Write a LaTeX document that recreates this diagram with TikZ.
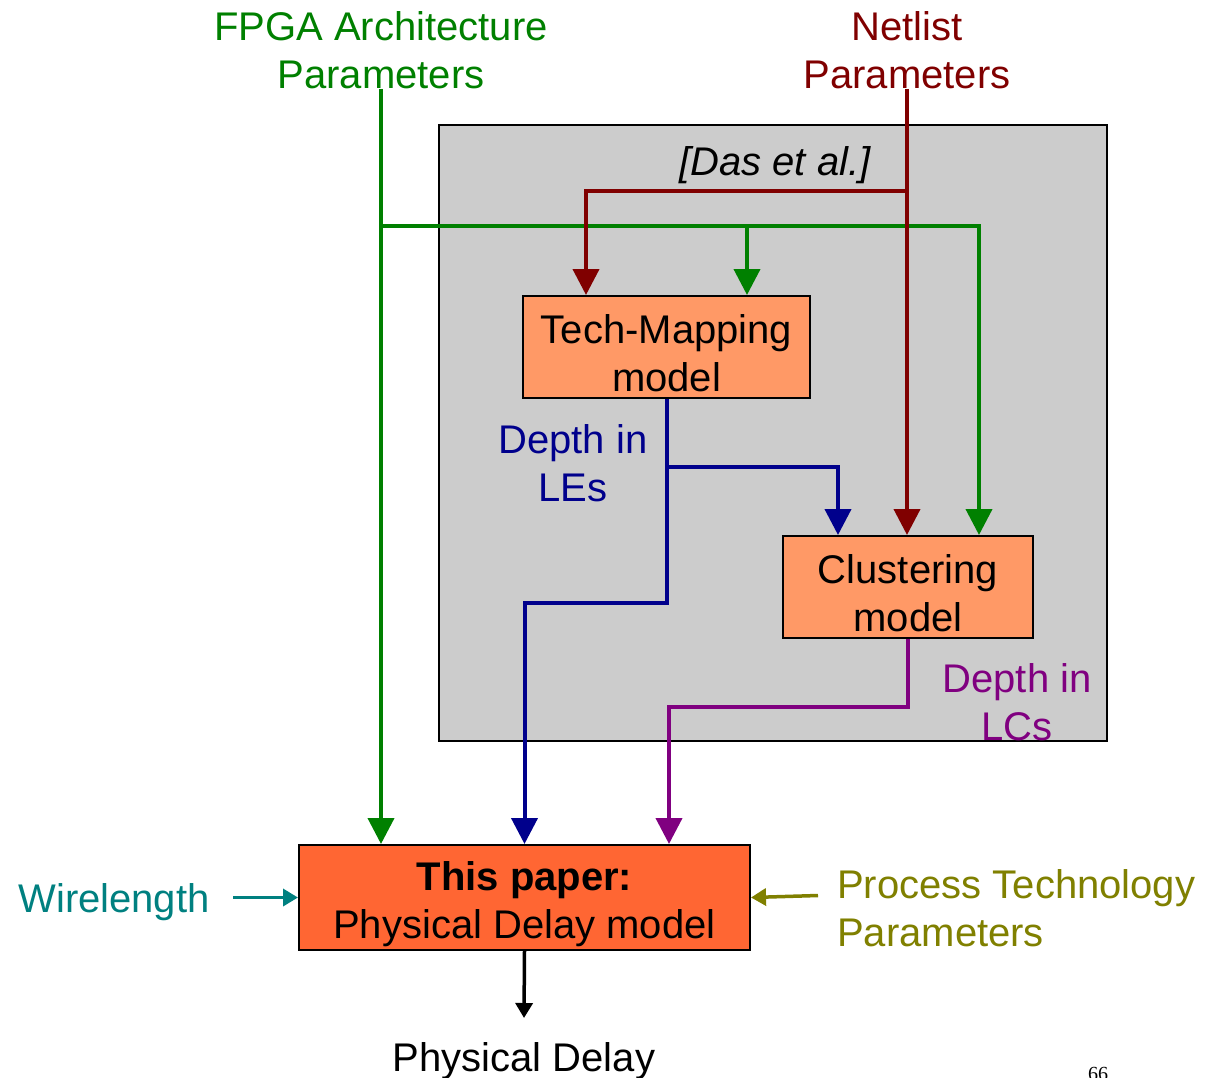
\documentclass[tikz,border=0pt]{standalone}
\usepackage{fontspec}
\setmainfont{Liberation Sans}
\newfontfamily\pagenumfont{Liberation Serif}
\usetikzlibrary{arrows.meta,calc}

\definecolor{archgreen}{RGB}{0,128,0}
\definecolor{netred}{RGB}{128,0,0}
\definecolor{lenavy}{RGB}{0,0,140}
\definecolor{lcpurple}{RGB}{128,0,128}
\definecolor{wlteal}{RGB}{0,128,128}
\definecolor{procolive}{RGB}{128,128,0}
\definecolor{panelgray}{RGB}{204,204,204}
\definecolor{modelorange}{RGB}{255,153,102}
\definecolor{paperorange}{RGB}{255,102,51}

% invisible strut that sets the first line of a box a little lower
\newcommand{\boxstrut}{\rule{0pt}{42pt}}

\begin{document}
\begin{tikzpicture}[x=1pt,y=-1pt,
  bigfont/.style={font=\fontsize{40}{48}\selectfont},
  lbl/.style={bigfont, align=center, inner sep=0pt},
  modelbox/.style={draw=black, line width=2pt, fill=modelorange, bigfont,
    align=center, inner sep=0pt},
  flow/.style={line width=4pt, -{Triangle[width=26pt,length=26pt]}},
  thinflow/.style={line width=3.5pt, -{Triangle[width=17pt,length=15pt]}}
]
\useasboundingbox (0,0) rectangle (1207,1077);

% grey panel for the prior-work models
\node[draw=black, line width=2pt, fill=panelgray, minimum width=668pt,
  minimum height=616pt, inner sep=0pt] (panel) at (773,433) {};
\node[lbl, font=\fontsize{40}{48}\selectfont\itshape] (das) at (775,165) {[Das et al.]};

% model boxes
\node[modelbox, minimum width=287pt, minimum height=102pt] (tm) at (666.5,347)
  {\boxstrut Tech-Mapping\\model};
\node[modelbox, minimum width=250pt, minimum height=102pt] (clu) at (908,587)
  {\boxstrut Clustering\\model};
\node[modelbox, fill=paperorange, minimum width=451pt, minimum height=105pt]
  (paper) at (524.5,897.5) {\boxstrut\textbf{This paper:}\\Physical Delay model};

% input / output labels
\node[lbl, text=archgreen, anchor=north] (fpga) at (381,11)
  {FPGA Architecture\\Parameters};
\node[lbl, text=netred, anchor=north] (net) at (907,11)
  {Netlist\\Parameters};
\node[lbl, text=lenavy] (les) at (573,463) {Depth in\\LEs};
\node[lbl, text=lcpurple] (lcs) at (1017,702) {Depth in\\LCs};
\node[lbl, text=wlteal] (wl) at (114,902) {Wirelength};
\node[lbl, text=procolive, align=left, anchor=west] (proc) at (837,908)
  {Process Technology\\Parameters};
\node[lbl, anchor=north] (pd) at (524,1042) {Physical Delay};
\node[font=\pagenumfont\fontsize{20}{24}\selectfont, anchor=base, inner sep=0pt]
  (pagenum) at (1098,1080) {66};

% junctions
\coordinate (gsplit) at (fpga.south |- {$(tm.north)+(0,-69)$});
\coordinate (rsplit) at (net.south |- {$(tm.north)+(0,-104)$});
\coordinate (bsplit) at ($(tm.south)+(0,68)$);

% architecture parameters (green)
\draw[flow, archgreen] (fpga.south) -- (fpga.south |- paper.north);
\draw[flow, archgreen] (gsplit) -| ($(clu.north east)+(-55,0)$);
\draw[flow, archgreen] (gsplit -| tm.north east) ++(-64,0) -- ($(tm.north east)+(-64,0)$);

% netlist parameters (dark red)
\draw[flow, netred] (net.south) -- (net.south |- clu.north);
\draw[flow, netred] (rsplit) -| ($(tm.north west)+(64,0)$);

% depth in LEs (navy)
\draw[flow, lenavy] (tm.south) |- ($(paper.north)+(0,-241)$) -- (paper.north);
\draw[flow, lenavy] (bsplit) -| ($(clu.north west)+(56,0)$);

% depth in LCs (purple)
\draw[flow, lcpurple] (clu.south) |- ($(paper.north east)+(-82,-137)$)
  -- ($(paper.north east)+(-82,0)$);

% side inputs and output
\draw[thinflow, wlteal] ($(paper.west)+(-65,0)$) -- (paper.west);
\draw[thinflow, procolive] ($(paper.east)+(67,-2)$) -- (paper.east);
\draw[thinflow, black] (paper.south) -- ($(pd.north)+(0,-24)$);
\end{tikzpicture}
\end{document}
